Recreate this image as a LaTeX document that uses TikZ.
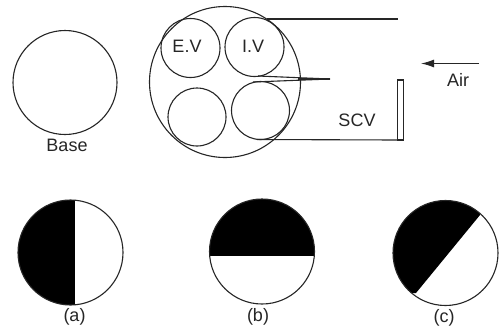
\documentclass[tikz,border=0pt]{standalone}
\usepackage{fontspec}
\setmainfont{Liberation Sans}
\usetikzlibrary{arrows.meta}
\tikzset{
  x=1pt,y=-1pt,
  ln/.style={draw=black!85,line width=1.1pt},
  lbl/.style={font=\fontsize{18}{18}\selectfont,text=black!85,inner sep=0pt}
}
\begin{document}
\begin{tikzpicture}
\useasboundingbox (0,0) rectangle (500,330);
\fill[white] (0,0) rectangle (500,330);
% base
\draw[ln] (65,82.5) circle (52);
\node[lbl] (base) at (67,145) {Base};
% head
\draw[ln] (225,82) circle (75.5);
\draw[ln] (190.5,48) circle (29.5);
\draw[ln] (254.5,47) circle (29.5);
\draw[ln] (197,117) circle (29);
\draw[ln] (260.5,110.5) circle (29);
\node[lbl] (ev) at (187,46.5) {E.V};
\node[lbl] (iv) at (253,46.5) {I.V};
\node[lbl] (scv) at (357,120) {SCV};
\node[lbl] (air) at (458,79.5) {Air};
\coordinate (a1) at (267,19);
\coordinate (a2) at (398,19);
\draw[ln] (a1) -- (a2);
\coordinate (b1) at (258,76);
\coordinate (b2) at (330,79);
\coordinate (b3) at (253,82);
\draw[ln] (b1) -- (b2) -- (b3);
\draw[ln,line width=1.6pt] (298,79) -- (b2);
\coordinate (c1) at (257,139.5);
\coordinate (c2) at (397.5,140);
\draw[ln] (c1) -- (c2);
\draw[draw=black!85,line width=1.2pt] (397.5,140) -- (397.5,80) -- (403.5,80) -- (403.5,140) -- cycle;
\coordinate (ar1) at (479,63.5);
\coordinate (ar2) at (421,63.5);
\draw[draw=black!85,line width=1.2pt,-{Latex[length=13pt,width=8pt]}] (ar1) -- (ar2);
% a
\begin{scope}
\clip (70.5,252.5) circle (52.5);
\fill[black] (0,190) rectangle (74.5,310);
\end{scope}
\draw[ln] (70.5,252.5) circle (52.5);
\node[lbl] (la) at (74.5,317) {(a)};
% b
\begin{scope}
\clip (262,251.5) circle (52.5);
\fill[black] (200,190) rectangle (320,256);
\end{scope}
\draw[ln] (262,251.5) circle (52.5);
\node[lbl] (lb) at (258,317) {(b)};
% c
\begin{scope}
\clip (445.5,253) circle (52.5);
\fill[black] (480,215) -- (416,293) -- (380,293) -- (380,190) -- (480,190) -- cycle;
\end{scope}
\draw[ln] (445.5,253) circle (52.5);
\node[lbl] (lc) at (444,318) {(c)};
\end{tikzpicture}
\end{document}
